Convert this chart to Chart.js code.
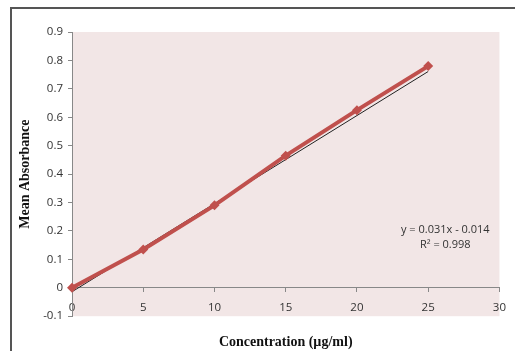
<!DOCTYPE html>
<html>
<head>
<meta charset="utf-8">
<script src="https://cdn.jsdelivr.net/npm/chart.js@4"></script>
<style>
  html, body { margin: 0; padding: 0; background: #fff; }
  #wrap { width: 515px; height: 351px; }
</style>
</head>
<body>
<div id="wrap"><canvas id="chart" width="515" height="351"></canvas></div>
<script>
// values
const concentrations = [0, 5, 10, 15, 20, 25];
const absorbance = [0.0, 0.135, 0.29, 0.465, 0.625, 0.78];
const trendSlope = 0.031;
const trendIntercept = -0.014;
const trendRange = [0, 25];
const equationLines = ["y = 0.031x - 0.014", "R\u00B2 = 0.998"];

const tickFont = { family: "'Open Sans', 'Liberation Sans', sans-serif", size: 11.5 };
const titleFont = { family: "'Liberation Serif', 'DejaVu Serif', serif", size: 14, weight: "bold" };

const plotBackground = {
  id: "plotBackground",
  beforeDraw(chart) {
    const { ctx, chartArea } = chart;
    ctx.save();
    ctx.fillStyle = "#f2e6e6";
    ctx.fillRect(chartArea.left, chartArea.top, chartArea.right - chartArea.left, chartArea.bottom - chartArea.top);
    ctx.strokeStyle = "#555";
    ctx.lineWidth = 2;
    ctx.strokeRect(11, 8, 700, 700);
    ctx.restore();
  },
  afterDraw(chart) {
    const { ctx, scales } = chart;
    const x = scales.x.getPixelForValue(26.2);
    const y = scales.y.getPixelForValue(0.205);
    ctx.save();
    ctx.fillStyle = "#333";
    ctx.font = "11px " + tickFont.family;
    ctx.textAlign = "center";
    ctx.textBaseline = "middle";
    ctx.fillText(equationLines[0], x, y);
    ctx.fillText(equationLines[1], x, y + 15);
    ctx.restore();
  }
};

new Chart(document.getElementById("chart"), {
  type: "scatter",
  data: {
    datasets: [
      {
        label: "Mean Absorbance",
        data: concentrations.map((c, i) => ({ x: c, y: absorbance[i] })),
        showLine: true,
        borderColor: "#c0504d",
        backgroundColor: "#c0504d",
        borderWidth: 4,
        pointStyle: "rectRot",
        pointRadius: 5,
        pointBorderWidth: 0,
        clip: false,
      },
      {
        label: "Trendline",
        data: trendRange.map((x) => ({ x: x, y: trendSlope * x + trendIntercept })),
        showLine: true,
        borderColor: "#222",
        borderWidth: 1,
        pointRadius: 0,
        clip: false,
      },
    ],
  },
  options: {
    responsive: false,
    animation: false,
    layout: { padding: { left: 12, top: 32, right: 11, bottom: 0 } },
    scales: {
      x: {
        type: "linear",
        position: { y: 0 },
        min: 0,
        max: 30,
        ticks: { stepSize: 5, color: "#333", font: tickFont, padding: 9, maxRotation: 0 },
        grid: { drawOnChartArea: false, tickLength: 4, color: "#888" },
        border: { color: "#888", width: 1 },
      },
      y: {
        min: -0.1,
        max: 0.9,
        ticks: {
          stepSize: 0.1,
          color: "#333",
          font: tickFont,
          padding: 5,
          callback: (v) => (Math.round(v * 10) / 10).toString(),
        },
        grid: { drawOnChartArea: false, tickLength: 4, color: "#888" },
        border: { color: "#888", width: 1 },
        title: { display: true, text: "Mean Absorbance", font: titleFont, color: "#111", padding: { top: 5, bottom: 0 } },
        afterFit(scale) { scale.width = 60; },
      },
    },
    plugins: {
      legend: { display: false },
      tooltip: { enabled: false },
      title: {
        display: true,
        position: "bottom",
        fullSize: false,
        text: "Concentration (\u00B5g/ml)",
        font: titleFont,
        color: "#111",
        padding: { top: 18, bottom: 0 },
      },
    },
  },
  plugins: [plotBackground],
});
</script>
</body>
</html>
